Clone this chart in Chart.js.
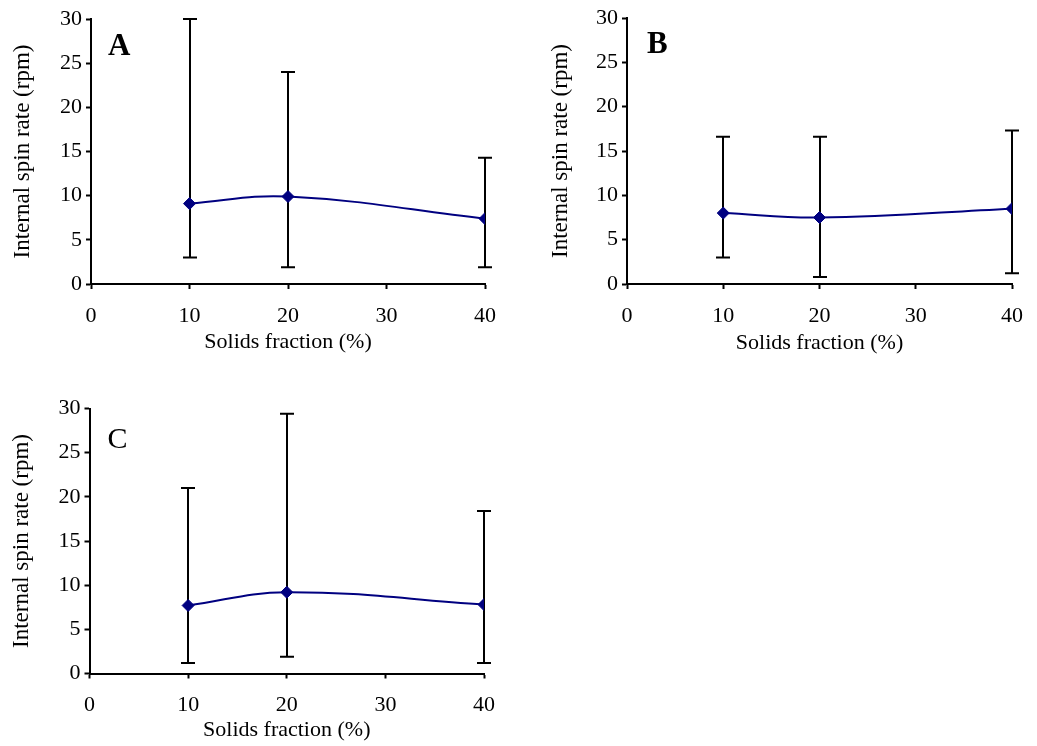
<!DOCTYPE html>
<html><head><meta charset="utf-8">
<script src="https://cdn.jsdelivr.net/npm/chart.js@4/dist/chart.umd.min.js"></script>
<style>
html,body{margin:0;padding:0;background:#fff;width:1037px;height:746px;overflow:hidden}
canvas{position:absolute}
</style></head><body>
<canvas id="cA" width="518" height="360" style="left:0px;top:0px"></canvas>
<canvas id="cB" width="507" height="360" style="left:530px;top:0px"></canvas>
<canvas id="cC" width="518" height="356" style="left:0px;top:390px"></canvas>
<script>
// ---- data ----
const solidsFraction = [10, 20, 40];
const xTickValues = [0, 10, 20, 30, 40];
const yTickValues = [0, 5, 10, 15, 20, 25, 30];

const spinA = [9.1, 9.9, 7.4];
const lowA  = [3.0, 1.9, 1.9];
const highA = [30.0, 24.0, 14.3];

const spinB = [8.0, 7.5, 8.5];
const lowB  = [3.0, 0.8, 1.2];
const highB = [16.6, 16.6, 17.3];

const spinC = [7.7, 9.2, 7.8];
const lowC  = [1.2, 1.9, 1.2];
const highC = [21.0, 29.4, 18.4];

const xTitle = 'Solids fraction (%)';
const yTitle = 'Internal spin rate (rpm)';

// ---- plugins ----
const errorBars = {
  id: 'errorBars',
  beforeDatasetsDraw(chart, args, opts) {
    const {ctx, scales: {x, y}} = chart;
    const ds = chart.data.datasets[0];
    ctx.save();
    ctx.strokeStyle = '#000';
    ctx.lineWidth = 2;
    ds.data.forEach((p, i) => {
      const px = Math.round(x.getPixelForValue(p.x));
      const yl = y.getPixelForValue(opts.low[i]);
      const yh = y.getPixelForValue(opts.high[i]);
      ctx.beginPath();
      ctx.moveTo(px, yl); ctx.lineTo(px, yh);
      ctx.moveTo(px - 7, yh); ctx.lineTo(px + 7, yh);
      ctx.moveTo(px - 7, yl); ctx.lineTo(px + 7, yl);
      ctx.stroke();
    });
    ctx.restore();
  }
};
const panelLabel = {
  id: 'panelLabel',
  afterDraw(chart, args, opts) {
    const {ctx, chartArea} = chart;
    ctx.save();
    ctx.fillStyle = '#000';
    ctx.font = opts.font;
    ctx.textBaseline = 'alphabetic';
    ctx.textAlign = 'left';
    ctx.fillText(opts.text, chartArea.left + opts.dx, chartArea.top + opts.dy);
    ctx.restore();
  }
};

const SERIF = '"Liberation Serif", "Times New Roman", serif';

function makePanel(id, spin, low, high, p) {
  new Chart(document.getElementById(id), {
    type: 'line',
    data: {
      datasets: [{
        data: solidsFraction.map((x, i) => ({x: x, y: spin[i]})),
        borderColor: '#000080',
        borderWidth: 2,
        backgroundColor: '#000080',
        pointStyle: 'rectRot',
        pointRadius: 6,
        pointBorderWidth: 1,
        pointBackgroundColor: '#000080',
        pointBorderColor: '#000080',
        tension: 0.4,
        fill: false
      }]
    },
    options: {
      responsive: false,
      animation: false,
      events: [],
      layout: {padding: {left: 0, top: p.top, right: p.right, bottom: p.bottom}},
      plugins: {
        legend: {display: false},
        tooltip: {enabled: false},
        errorBars: {low: low, high: high},
        panelLabel: {text: p.label, dx: p.ldx, dy: p.ldy, font: p.lfont}
      },
      scales: {
        x: {
          type: 'linear',
          min: 0, max: 40,
          afterBuildTicks: s => { s.ticks = xTickValues.map(v => ({value: v})); },
          afterFit: s => { s.height = p.xh; },
          border: {display: true, color: '#000', width: 2},
          grid: {display: true, drawOnChartArea: false, drawTicks: true, tickLength: 5, tickWidth: 2, tickColor: '#000', color: '#000'},
          ticks: {color: '#000', font: {family: SERIF, size: 22}, padding: 14, maxRotation: 0},
          title: {display: true, text: xTitle, color: '#000', font: {family: SERIF, size: 22, lineHeight: 1.2}, padding: {top: 0, bottom: 0}}
        },
        y: {
          type: 'linear',
          min: 0, max: 30,
          afterBuildTicks: s => { s.ticks = yTickValues.map(v => ({value: v})); },
          afterFit: s => { s.width = p.yw; },
          border: {display: true, color: '#000', width: 2},
          grid: {display: true, drawOnChartArea: false, drawTicks: true, tickLength: 5, tickWidth: 2, tickColor: '#000', color: '#000'},
          ticks: {color: '#000', font: {family: SERIF, size: 22}, padding: 4},
          title: {display: true, text: yTitle, color: '#000', font: {family: SERIF, size: 23, lineHeight: 1.2}, padding: {top: p.ytp, bottom: 0}}
        }
      }
    },
    plugins: [errorBars, panelLabel]
  });
}

makePanel('cA', spinA, lowA, highA, {top: 19, right: 33, bottom: 4.8, xh: 71.2, yw: 91, ytp: 9.2, label: 'A', ldx: 17, ldy: 36, lfont: 'bold 31px ' + SERIF});
makePanel('cB', spinB, lowB, highB, {top: 18, right: 13, bottom: 3.8, xh: 72.2, yw: 97, ytp: 17.2, label: 'B', ldx: 20, ldy: 35, lfont: 'bold 31px ' + SERIF});
makePanel('cC', spinC, lowC, highC, {top: 18.5, right: 34, bottom: 2.8, xh: 69.7, yw: 89.5, ytp: 8.2, label: 'C', ldx: 18, ldy: 39.5, lfont: '30px ' + SERIF});
</script>
</body></html>
